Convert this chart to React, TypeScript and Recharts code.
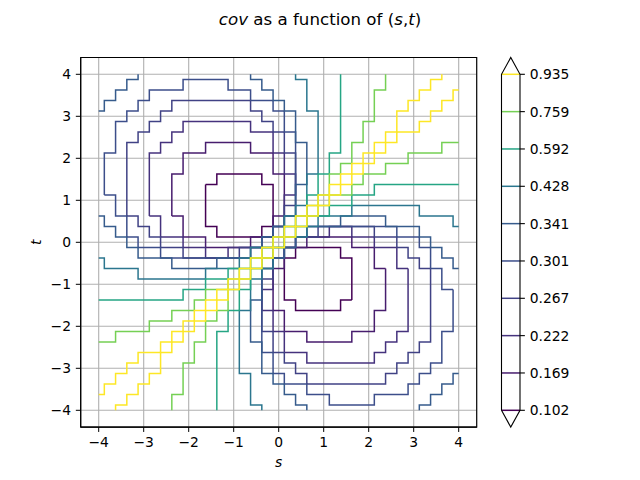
import { ScatterChart, Scatter, XAxis, YAxis, CartesianGrid, ReferenceArea, ReferenceLine } from "recharts";

const levelLabels = ["0.102", "0.169", "0.222", "0.267", "0.301", "0.341", "0.428", "0.592", "0.759", "0.935"];
const levelColors = ["#440154", "#471d6e", "#45327d", "#404285", "#3c4e8a", "#365b8c", "#2b768e", "#25a584", "#75d054", "#fde725"];
const axisTicks = [-4, -3, -2, -1, 0, 1, 2, 3, 4];

// contour corners [s, t]; "Up" = the t > s half, "Lo" = the t < s half
const lvl0Up = [[-1.625,1.375],[-1.375,1.375],[-1.375,1.625],[-0.375,1.625],[-0.375,1.375],[-0.125,1.375],[-0.125,0.375],[-0.375,0.375],[-0.375,0.125],[-1.375,0.125],[-1.375,0.375],[-1.625,0.375],[-1.625,1.375]];
const lvl0Lo = [[1.625,-1.375],[1.375,-1.375],[1.375,-1.625],[0.375,-1.625],[0.375,-1.375],[0.125,-1.375],[0.125,-0.375],[0.375,-0.375],[0.375,-0.125],[1.375,-0.125],[1.375,-0.375],[1.625,-0.375],[1.625,-1.375]];

const lvl1Up = [[-2.375,0.625],[-2.375,1.625],[-2.125,1.625],[-2.125,2.125],[-1.625,2.125],[-1.625,2.375],[-0.625,2.375],[-0.625,2.125],[-0.125,2.125],[-0.125,1.625],[0.125,1.625],[0.125,0.625],[-0.125,0.625],[-0.125,0.125],[-0.625,0.125],[-0.625,-0.125],[-1.625,-0.125],[-1.625,0.125],[-2.125,0.125],[-2.125,0.625],[-2.375,0.625]];
const lvl1Lo = [[2.375,-0.625],[2.375,-1.625],[2.125,-1.625],[2.125,-2.125],[1.625,-2.125],[1.625,-2.375],[0.625,-2.375],[0.625,-2.125],[0.125,-2.125],[0.125,-1.625],[-0.125,-1.625],[-0.125,-0.625],[0.125,-0.625],[0.125,-0.125],[0.625,-0.125],[0.625,0.125],[1.625,0.125],[1.625,-0.125],[2.125,-0.125],[2.125,-0.625],[2.375,-0.625]];

const lvl2Up = [[-2.875,0.625],[-2.875,2.125],[-2.625,2.125],[-2.625,2.375],[-2.375,2.375],[-2.375,2.625],[-2.125,2.625],[-2.125,2.875],[-0.625,2.875],[-0.625,2.625],[-0.125,2.625],[-0.125,2.125],[0.125,2.125],[0.125,1.625],[0.375,1.625],[0.375,1.125],[0.125,1.125],[0.125,0.375],[-0.125,0.375],[-0.125,0.125],[-0.375,0.125],[-0.375,-0.125],[-1.125,-0.125],[-1.125,-0.375],[-1.625,-0.375],[-1.625,-0.125],[-2.125,-0.125],[-2.125,0.125],[-2.625,0.125],[-2.625,0.625],[-2.875,0.625]];
const lvl2Lo = [[2.875,-0.625],[2.875,-2.125],[2.625,-2.125],[2.625,-2.375],[2.375,-2.375],[2.375,-2.625],[2.125,-2.625],[2.125,-2.875],[0.625,-2.875],[0.625,-2.625],[0.125,-2.625],[0.125,-2.125],[-0.125,-2.125],[-0.125,-1.625],[-0.375,-1.625],[-0.375,-1.125],[-0.125,-1.125],[-0.125,-0.375],[0.125,-0.375],[0.125,-0.125],[0.375,-0.125],[0.375,0.125],[1.125,0.125],[1.125,0.375],[1.625,0.375],[1.625,0.125],[2.125,0.125],[2.125,-0.125],[2.625,-0.125],[2.625,-0.625],[2.875,-0.625]];

const lvl3Up = [[-3.375,0.625],[-3.375,2.375],[-3.125,2.375],[-3.125,2.625],[-2.875,2.625],[-2.875,2.875],[-2.625,2.875],[-2.625,3.125],[-2.375,3.125],[-2.375,3.375],[-0.625,3.375],[-0.625,3.125],[-0.375,3.125],[-0.375,2.875],[-0.125,2.875],[-0.125,2.625],[0.125,2.625],[0.125,2.125],[0.375,2.125],[0.375,0.875],[0.125,0.875],[0.125,0.375],[-0.125,0.375],[-0.125,0.125],[-0.375,0.125],[-0.375,-0.125],[-0.875,-0.125],[-0.875,-0.375],[-2.125,-0.375],[-2.125,-0.125],[-2.625,-0.125],[-2.625,0.125],[-2.875,0.125],[-2.875,0.375],[-3.125,0.375],[-3.125,0.625],[-3.375,0.625]];
const lvl3Lo = [[3.375,-0.625],[3.375,-2.375],[3.125,-2.375],[3.125,-2.625],[2.875,-2.625],[2.875,-2.875],[2.625,-2.875],[2.625,-3.125],[2.375,-3.125],[2.375,-3.375],[0.625,-3.375],[0.625,-3.125],[0.375,-3.125],[0.375,-2.875],[0.125,-2.875],[0.125,-2.625],[-0.125,-2.625],[-0.125,-2.125],[-0.375,-2.125],[-0.375,-0.875],[-0.125,-0.875],[-0.125,-0.375],[0.125,-0.375],[0.125,-0.125],[0.375,-0.125],[0.375,0.125],[0.875,0.125],[0.875,0.375],[2.125,0.375],[2.125,0.125],[2.625,0.125],[2.625,-0.125],[2.875,-0.125],[2.875,-0.375],[3.125,-0.375],[3.125,-0.625],[3.375,-0.625]];

const lvl4Up = [[-3.875,1.125],[-3.875,2.125],[-3.625,2.125],[-3.625,2.875],[-3.375,2.875],[-3.375,3.125],[-3.125,3.125],[-3.125,3.375],[-2.875,3.375],[-2.875,3.625],[-2.125,3.625],[-2.125,3.875],[-1.125,3.875],[-1.125,3.625],[-0.625,3.625],[-0.625,3.375],[-0.125,3.375],[-0.125,3.125],[0.125,3.125],[0.125,2.625],[0.375,2.625],[0.375,0.625],[0.125,0.625],[0.125,0.375],[-0.125,0.375],[-0.125,0.125],[-0.375,0.125],[-0.375,-0.125],[-0.625,-0.125],[-0.625,-0.375],[-2.625,-0.375],[-2.625,-0.125],[-3.125,-0.125],[-3.125,0.125],[-3.375,0.125],[-3.375,0.625],[-3.625,0.625],[-3.625,1.125],[-3.875,1.125]];
const lvl4Lo = [[3.875,-1.125],[3.875,-2.125],[3.625,-2.125],[3.625,-2.875],[3.375,-2.875],[3.375,-3.125],[3.125,-3.125],[3.125,-3.375],[2.875,-3.375],[2.875,-3.625],[2.125,-3.625],[2.125,-3.875],[1.125,-3.875],[1.125,-3.625],[0.625,-3.625],[0.625,-3.375],[0.125,-3.375],[0.125,-3.125],[-0.125,-3.125],[-0.125,-2.625],[-0.375,-2.625],[-0.375,-0.625],[-0.125,-0.625],[-0.125,-0.375],[0.125,-0.375],[0.125,-0.125],[0.375,-0.125],[0.375,0.125],[0.625,0.125],[0.625,0.375],[2.625,0.375],[2.625,0.125],[3.125,0.125],[3.125,-0.125],[3.375,-0.125],[3.375,-0.625],[3.625,-0.625],[3.625,-1.125],[3.875,-1.125]];

const lvl5UpCorner = [[-4,3.125],[-3.875,3.125],[-3.875,3.375],[-3.625,3.375],[-3.625,3.625],[-3.375,3.625],[-3.375,3.875],[-3.125,3.875],[-3.125,4]];
const lvl5Up = [[-4,0.625],[-3.875,0.625],[-3.875,0.375],[-3.625,0.375],[-3.625,0.125],[-3.375,0.125],[-3.375,-0.125],[-3.125,-0.125],[-3.125,-0.375],[-2.375,-0.375],[-2.375,-0.625],[-1.375,-0.625],[-1.375,-0.375],[-0.625,-0.375],[-0.625,-0.125],[-0.375,-0.125],[-0.375,0.125],[-0.125,0.125],[-0.125,0.375],[0.125,0.375],[0.125,0.625],[0.375,0.625],[0.375,1.375],[0.625,1.375],[0.625,2.375],[0.375,2.375],[0.375,3.125],[0.125,3.125],[0.125,3.375],[-0.125,3.375],[-0.125,3.625],[-0.375,3.625],[-0.375,3.875],[-0.625,3.875],[-0.625,4]];
const lvl5LoCorner = [[4,-3.125],[3.875,-3.125],[3.875,-3.375],[3.625,-3.375],[3.625,-3.625],[3.375,-3.625],[3.375,-3.875],[3.125,-3.875],[3.125,-4]];
const lvl5Lo = [[4,-0.625],[3.875,-0.625],[3.875,-0.375],[3.625,-0.375],[3.625,-0.125],[3.375,-0.125],[3.375,0.125],[3.125,0.125],[3.125,0.375],[2.375,0.375],[2.375,0.625],[1.375,0.625],[1.375,0.375],[0.625,0.375],[0.625,0.125],[0.375,0.125],[0.375,-0.125],[0.125,-0.125],[0.125,-0.375],[-0.125,-0.375],[-0.125,-0.625],[-0.375,-0.625],[-0.375,-1.375],[-0.625,-1.375],[-0.625,-2.375],[-0.375,-2.375],[-0.375,-3.125],[-0.125,-3.125],[-0.125,-3.375],[0.125,-3.375],[0.125,-3.625],[0.375,-3.625],[0.375,-3.875],[0.625,-3.875],[0.625,-4]];

const lvl6Up = [[-4,-0.375],[-3.875,-0.375],[-3.875,-0.625],[-3.125,-0.625],[-3.125,-0.875],[-1.625,-0.875],[-1.625,-0.625],[-0.875,-0.625],[-0.875,-0.375],[-0.625,-0.375],[-0.625,-0.125],[-0.125,-0.125],[-0.125,0.125],[0.125,0.125],[0.125,0.625],[0.375,0.625],[0.375,0.875],[0.625,0.875],[0.625,1.625],[0.875,1.625],[0.875,3.125],[0.625,3.125],[0.625,3.875],[0.375,3.875],[0.375,4]];
const lvl6Lo = [[4,0.375],[3.875,0.375],[3.875,0.625],[3.125,0.625],[3.125,0.875],[1.625,0.875],[1.625,0.625],[0.875,0.625],[0.875,0.375],[0.625,0.375],[0.625,0.125],[0.125,0.125],[0.125,-0.125],[-0.125,-0.125],[-0.125,-0.625],[-0.375,-0.625],[-0.375,-0.875],[-0.625,-0.875],[-0.625,-1.625],[-0.875,-1.625],[-0.875,-3.125],[-0.625,-3.125],[-0.625,-3.875],[-0.375,-3.875],[-0.375,-4]];

const lvl7Up = [[-4,-1.375],[-2.125,-1.375],[-2.125,-1.125],[-1.625,-1.125],[-1.625,-0.875],[-1.125,-0.875],[-1.125,-0.625],[-0.625,-0.625],[-0.625,-0.375],[-0.375,-0.375],[-0.375,-0.125],[-0.125,-0.125],[-0.125,0.125],[0.125,0.125],[0.125,0.375],[0.375,0.375],[0.375,0.625],[0.625,0.625],[0.625,1.125],[0.875,1.125],[0.875,1.625],[1.125,1.625],[1.125,2.125],[1.375,2.125],[1.375,4]];
const lvl7Lo = [[4,1.375],[2.125,1.375],[2.125,1.125],[1.625,1.125],[1.625,0.875],[1.125,0.875],[1.125,0.625],[0.625,0.625],[0.625,0.375],[0.375,0.375],[0.375,0.125],[0.125,0.125],[0.125,-0.125],[-0.125,-0.125],[-0.125,-0.375],[-0.375,-0.375],[-0.375,-0.625],[-0.625,-0.625],[-0.625,-1.125],[-0.875,-1.125],[-0.875,-1.625],[-1.125,-1.625],[-1.125,-2.125],[-1.375,-2.125],[-1.375,-4]];

const lvl8Up = [[-4,-2.375],[-3.625,-2.375],[-3.625,-2.125],[-2.875,-2.125],[-2.875,-1.875],[-2.375,-1.875],[-2.375,-1.625],[-1.875,-1.625],[-1.875,-1.375],[-1.625,-1.375],[-1.625,-1.125],[-1.125,-1.125],[-1.125,-0.875],[-0.875,-0.875],[-0.875,-0.625],[-0.625,-0.625],[-0.625,-0.375],[-0.375,-0.375],[-0.375,-0.125],[-0.125,-0.125],[-0.125,0.125],[0.125,0.125],[0.125,0.375],[0.375,0.375],[0.375,0.625],[0.625,0.625],[0.625,0.875],[0.875,0.875],[0.875,1.125],[1.125,1.125],[1.125,1.625],[1.375,1.625],[1.375,1.875],[1.625,1.875],[1.625,2.375],[1.875,2.375],[1.875,2.875],[2.125,2.875],[2.125,3.625],[2.375,3.625],[2.375,4]];
const lvl8Lo = [[4,2.375],[3.625,2.375],[3.625,2.125],[2.875,2.125],[2.875,1.875],[2.375,1.875],[2.375,1.625],[1.875,1.625],[1.875,1.375],[1.625,1.375],[1.625,1.125],[1.125,1.125],[1.125,0.875],[0.875,0.875],[0.875,0.625],[0.625,0.625],[0.625,0.375],[0.375,0.375],[0.375,0.125],[0.125,0.125],[0.125,-0.125],[-0.125,-0.125],[-0.125,-0.375],[-0.375,-0.375],[-0.375,-0.625],[-0.625,-0.625],[-0.625,-0.875],[-0.875,-0.875],[-0.875,-1.125],[-1.125,-1.125],[-1.125,-1.625],[-1.375,-1.625],[-1.375,-1.875],[-1.625,-1.875],[-1.625,-2.375],[-1.875,-2.375],[-1.875,-2.875],[-2.125,-2.875],[-2.125,-3.625],[-2.375,-3.625],[-2.375,-4]];

const lvl9Up = [[-4,-3.625],[-3.875,-3.625],[-3.875,-3.375],[-3.625,-3.375],[-3.625,-3.125],[-3.375,-3.125],[-3.375,-2.875],[-3.125,-2.875],[-3.125,-2.625],[-2.625,-2.625],[-2.625,-2.375],[-2.375,-2.375],[-2.375,-2.125],[-2.125,-2.125],[-2.125,-1.875],[-1.875,-1.875],[-1.875,-1.625],[-1.625,-1.625],[-1.625,-1.375],[-1.375,-1.375],[-1.375,-1.125],[-1.125,-1.125],[-1.125,-0.875],[-0.875,-0.875],[-0.875,-0.625],[-0.625,-0.625],[-0.625,-0.375],[-0.375,-0.375],[-0.375,-0.125],[-0.125,-0.125],[-0.125,0.125],[0.125,0.125],[0.125,0.375],[0.375,0.375],[0.375,0.625],[0.625,0.625],[0.625,0.875],[0.875,0.875],[0.875,1.125],[1.125,1.125],[1.125,1.375],[1.375,1.375],[1.375,1.625],[1.625,1.625],[1.625,1.875],[1.875,1.875],[1.875,2.125],[2.125,2.125],[2.125,2.375],[2.375,2.375],[2.375,2.625],[2.625,2.625],[2.625,3.125],[2.875,3.125],[2.875,3.375],[3.125,3.375],[3.125,3.625],[3.375,3.625],[3.375,3.875],[3.625,3.875],[3.625,4]];
const lvl9Lo = [[4,3.625],[3.875,3.625],[3.875,3.375],[3.625,3.375],[3.625,3.125],[3.375,3.125],[3.375,2.875],[3.125,2.875],[3.125,2.625],[2.625,2.625],[2.625,2.375],[2.375,2.375],[2.375,2.125],[2.125,2.125],[2.125,1.875],[1.875,1.875],[1.875,1.625],[1.625,1.625],[1.625,1.375],[1.375,1.375],[1.375,1.125],[1.125,1.125],[1.125,0.875],[0.875,0.875],[0.875,0.625],[0.625,0.625],[0.625,0.375],[0.375,0.375],[0.375,0.125],[0.125,0.125],[0.125,-0.125],[-0.125,-0.125],[-0.125,-0.375],[-0.375,-0.375],[-0.375,-0.625],[-0.625,-0.625],[-0.625,-0.875],[-0.875,-0.875],[-0.875,-1.125],[-1.125,-1.125],[-1.125,-1.375],[-1.375,-1.375],[-1.375,-1.625],[-1.625,-1.625],[-1.625,-1.875],[-1.875,-1.875],[-1.875,-2.125],[-2.125,-2.125],[-2.125,-2.375],[-2.375,-2.375],[-2.375,-2.625],[-2.625,-2.625],[-2.625,-3.125],[-2.875,-3.125],[-2.875,-3.375],[-3.125,-3.375],[-3.125,-3.625],[-3.375,-3.625],[-3.375,-3.875],[-3.625,-3.875],[-3.625,-4]];

const contours = [
  { level: 0, path: lvl0Up }, { level: 0, path: lvl0Lo },
  { level: 1, path: lvl1Up }, { level: 1, path: lvl1Lo },
  { level: 2, path: lvl2Up }, { level: 2, path: lvl2Lo },
  { level: 3, path: lvl3Up }, { level: 3, path: lvl3Lo },
  { level: 4, path: lvl4Up }, { level: 4, path: lvl4Lo },
  { level: 5, path: lvl5UpCorner }, { level: 5, path: lvl5Up },
  { level: 5, path: lvl5LoCorner }, { level: 5, path: lvl5Lo },
  { level: 6, path: lvl6Up }, { level: 6, path: lvl6Lo },
  { level: 7, path: lvl7Up }, { level: 7, path: lvl7Lo },
  { level: 8, path: lvl8Up }, { level: 8, path: lvl8Lo },
  { level: 9, path: lvl9Up }, { level: 9, path: lvl9Lo },
];

// colorbar outline with both extension triangles, in level-index units
const barOutline = [[0, 0], [0.5, -0.45], [1, 0], [1, 9], [0.5, 9.45], [0, 9], [0, 0]];

const FONT = "DejaVu Sans";
const tickStyle = { fontFamily: FONT, fontSize: 13.89, fill: "#000" };
const fmt = (v) => (v < 0 ? "\u2212" + Math.abs(v) : String(v));
const noDot = () => <g />;

export default function App() {
  const levelIdx = levelLabels.map((_, i) => i);
  return (
    <div style={{ position: "absolute", left: 0, top: 0, width: 640, height: 480, background: "#fff" }}>
      <div style={{ position: "absolute", left: 0, top: 0 }}>
        <ScatterChart width={640} height={480} margin={{ top: 57.5, right: 163.3, bottom: 22.9, left: 30.7 }}>
          <CartesianGrid stroke="#b0b0b0" strokeWidth={1.1} />
          <XAxis
            type="number"
            dataKey="s"
            domain={[-4.4, 4.4]}
            ticks={axisTicks}
            tickFormatter={fmt}
            height={30}
            tickSize={4.86}
            tickMargin={4.86}
            stroke="#000"
            tick={tickStyle}
          />
          <YAxis
            type="number"
            dataKey="t"
            domain={[-4.4, 4.4]}
            ticks={axisTicks}
            tickFormatter={fmt}
            width={50}
            tickSize={4.86}
            tickMargin={4.86}
            stroke="#000"
            tick={tickStyle}
          />
          {contours.map((c, i) => (
            <Scatter
              key={i}
              data={c.path.map(([s, t]) => ({ s, t }))}
              fill={levelColors[c.level]}
              line={{ stroke: levelColors[c.level], strokeWidth: 1.5 }}
              shape={noDot}
              isAnimationActive={false}
            />
          ))}
          <ReferenceArea x1={-4.4} x2={4.4} y1={-4.4} y2={4.4} fill="none" stroke="#000" strokeWidth={1.1} />
        </ScatterChart>
      </div>

      <div style={{ position: "absolute", left: 490, top: 0 }}>
        <ScatterChart width={150} height={480} margin={{ top: 57.5, right: 60, bottom: 52.9, left: 11.5 }}>
          <XAxis type="number" dataKey="x" domain={[0, 1]} hide />
          <YAxis
            type="number"
            dataKey="y"
            orientation="right"
            domain={[-0.45, 9.45]}
            ticks={levelIdx}
            tickFormatter={(i) => levelLabels[i]}
            width={60}
            tickSize={4.86}
            tickMargin={4.86}
            axisLine={false}
            tickLine={{ stroke: "#000", strokeWidth: 1.1 }}
            tick={tickStyle}
          />
          {levelIdx.map((i) => (
            <ReferenceLine key={i} y={i} stroke={levelColors[i]} strokeWidth={1.5} />
          ))}
          <Scatter
            data={barOutline.map(([x, y]) => ({ x, y }))}
            fill="#000"
            line={{ stroke: "#000", strokeWidth: 1.1 }}
            shape={noDot}
            isAnimationActive={false}
          />
        </ScatterChart>
      </div>

      <svg width={640} height={480} style={{ position: "absolute", left: 0, top: 0, pointerEvents: "none" }}>
        <text x={320} y={24.5} textAnchor="middle" fontFamily={FONT} fontSize={16.67} fill="#000">
          <tspan fontStyle="italic">cov</tspan> as a function of (<tspan fontStyle="italic">s</tspan>,<tspan fontStyle="italic">t</tspan>)
        </text>
        <text x={278.7} y={467} textAnchor="middle" fontFamily={FONT} fontSize={13.89} fontStyle="italic" fill="#000">
          s
        </text>
        <text
          x={41.5}
          y={242.3}
          textAnchor="middle"
          fontFamily={FONT}
          fontSize={13.89}
          fontStyle="italic"
          fill="#000"
          transform="rotate(-90 41.5 242.3)"
        >
          t
        </text>
      </svg>
    </div>
  );
}
